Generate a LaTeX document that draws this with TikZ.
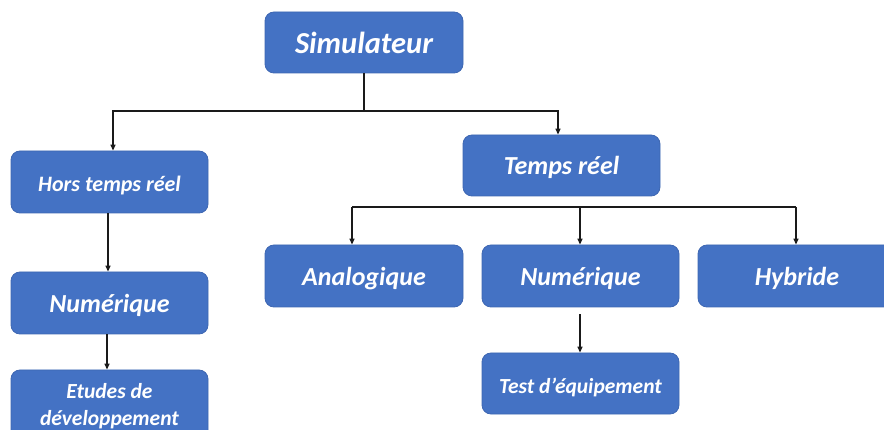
\documentclass[tikz,border=0pt]{standalone}
\usepackage{fontspec}
\setmainfont{Carlito}
\usetikzlibrary{arrows.meta}
\definecolor{boxblue}{HTML}{4472C4}
\definecolor{boxedge}{HTML}{3E67B2}
\definecolor{linecol}{HTML}{1A1A1A}
\tikzset{
  basebox/.style={draw=boxedge, line width=0.8pt, fill=boxblue, rounded corners=9pt,
    minimum width=197pt, minimum height=61pt, text=white, align=center,
    inner sep=0pt},
  box/.style={basebox, font=\bfseries\itshape\fontsize{26}{31}\selectfont,
    text height=23pt, text depth=4.2pt},
  bigbox/.style={basebox, font=\bfseries\itshape\fontsize{30.5}{36}\selectfont,
    text height=27pt, text depth=4.4pt},
  smallbox/.style={basebox, font=\bfseries\itshape\fontsize{21.5}{27}\selectfont,
    text height=23pt, text depth=3.2pt},
  multibox/.style={basebox, font=\bfseries\itshape\fontsize{21.5}{27}\selectfont},
  conn/.style={draw=linecol, line width=1.3pt},
  arr/.style={conn, -{Triangle[length=6pt,width=5pt]}}
}
\begin{document}
\begin{tikzpicture}[x=1pt,y=-1pt]
\useasboundingbox (0,0) rectangle (884,430);
\clip (0,0) rectangle (884,430);
% nodes
\node[bigbox, minimum width=198pt] (sim) at (364,42.5) {Simulateur};
\node[smallbox, font=\bfseries\itshape\fontsize{22}{27}\selectfont, minimum height=62pt] (hors) at (109.5,182) {Hors temps réel};
\node[box, minimum height=62pt] (numL) at (109.5,303) {Numérique};
\node[multibox, minimum height=72pt] (etu) at (109.5,406) {Etudes de\\développement};
\node[box] (tr) at (561.5,165.5) {Temps réel};
\node[box, minimum width=198pt, minimum height=62pt] (ana) at (364,276) {Analogique};
\node[box, minimum height=62pt] (numR) at (580.5,276) {Numérique};
\node[box, minimum width=198pt, minimum height=62pt] (hyb) at (797,276) {Hybride};
\node[smallbox] (test) at (580.5,383.5) {Test d’équipement};
% bus coordinates
\coordinate (b1) at (364,111);
\coordinate (bl) at (113,111);
\coordinate (br) at (558,111);
\coordinate (c1) at (352,207);
\coordinate (c2) at (580,207);
\coordinate (c3) at (796,207);
% connectors
\draw[conn] (sim.south) -- (b1);
\draw[arr] (b1) -- (bl) -- (bl |- hors.north);
\draw[arr] (b1) -- (br) -- (br |- tr.north);
\draw[conn] (c1) -- (c3);
\draw[arr] (c1) -- (c1 |- ana.north);
\draw[arr] (c2) -- (c2 |- numR.north);
\draw[arr] (c3) -- (c3 |- hyb.north);
\draw[arr] ([xshift=-1.5pt]hors.south) -- ([xshift=-1.5pt]numL.north);
\draw[arr] ([xshift=-2.5pt]numL.south) -- ([xshift=-2.5pt]etu.north);
\draw[arr] ([xshift=-0.5pt,yshift=-7pt]numR.south) -- ([xshift=-0.5pt]test.north);
\end{tikzpicture}
\end{document}
